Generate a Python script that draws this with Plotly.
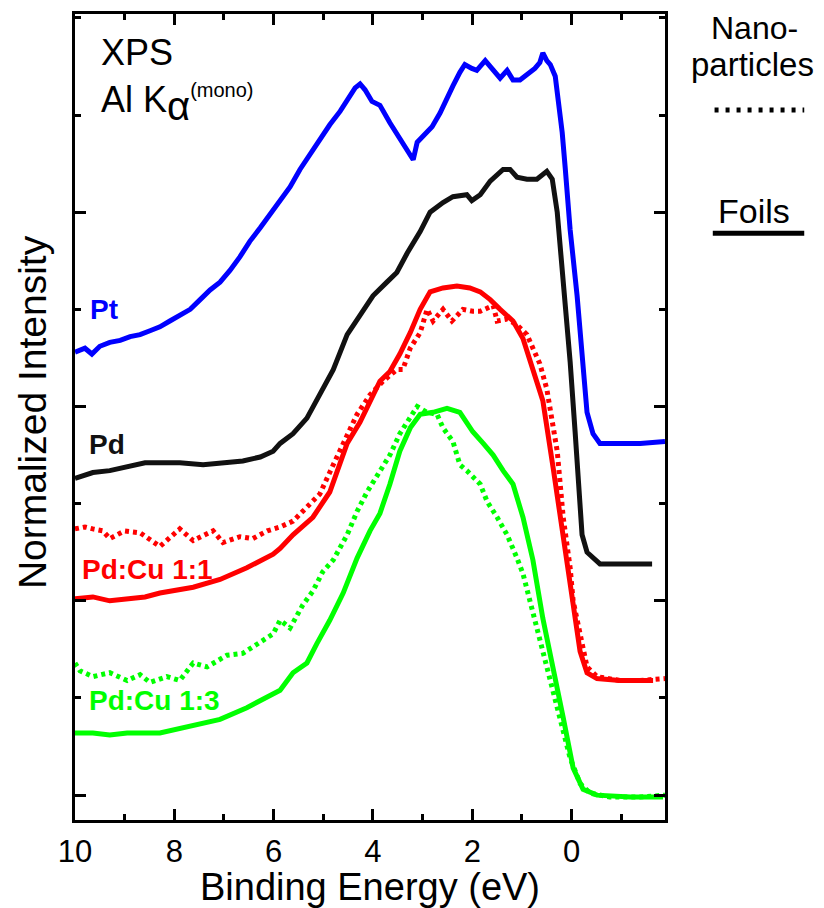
import plotly.graph_objects as go

# ---------------- data (binding energy in eV, normalized intensity with offsets) ----------------
pt_x = [10.00, 9.80, 9.66, 9.50, 9.30, 9.09, 8.89, 8.69, 8.49, 8.29, 8.09, 7.89, 7.68, 7.48, 7.28,
        7.08, 6.88, 6.68, 6.48, 6.27, 6.07, 5.87, 5.67, 5.47, 5.27, 5.07, 4.87, 4.66, 4.50, 4.36,
        4.26, 4.16, 4.02, 3.86, 3.66, 3.46, 3.29, 3.19, 3.11, 2.95, 2.81, 2.65, 2.51, 2.39, 2.25,
        2.15, 2.01, 1.91, 1.74, 1.60, 1.44, 1.30, 1.18, 1.04, 0.88, 0.74, 0.64, 0.58, 0.50, 0.43,
        0.33, 0.27, 0.19, 0.13, 0.03, -0.11, -0.21, -0.31, -0.43, -0.57, -0.97, -1.38, -1.88]
pt_y = [2.28, 2.30, 2.27, 2.31, 2.33, 2.34, 2.36, 2.37, 2.39, 2.41, 2.44, 2.47, 2.50, 2.55, 2.60,
        2.64, 2.70, 2.77, 2.85, 2.92, 2.99, 3.06, 3.13, 3.22, 3.30, 3.37, 3.45, 3.52, 3.59, 3.64,
        3.66, 3.63, 3.57, 3.55, 3.46, 3.38, 3.32, 3.27, 3.36, 3.40, 3.44, 3.51, 3.59, 3.65, 3.72,
        3.76, 3.74, 3.73, 3.78, 3.74, 3.69, 3.73, 3.68, 3.68, 3.71, 3.74, 3.77, 3.82, 3.78, 3.76,
        3.70, 3.59, 3.41, 3.23, 2.91, 2.57, 2.23, 1.97, 1.86, 1.81, 1.81, 1.81, 1.82]

pd_x = [10.00, 9.64, 9.30, 8.95, 8.59, 8.29, 7.89, 7.42, 6.98, 6.62, 6.27, 6.01, 5.87, 5.61, 5.33,
        5.07, 4.80, 4.52, 4.26, 4.00, 3.72, 3.52, 3.31, 3.05, 2.85, 2.59, 2.39, 2.11, 2.01, 1.84,
        1.64, 1.38, 1.24, 1.10, 0.90, 0.70, 0.50, 0.39, 0.29, 0.17, 0.03, -0.07, -0.13, -0.21,
        -0.31, -0.47, -0.57, -1.08, -1.62]
pd_y = [1.63, 1.66, 1.67, 1.69, 1.71, 1.71, 1.71, 1.70, 1.71, 1.72, 1.74, 1.77, 1.81, 1.86, 1.94,
        2.06, 2.19, 2.37, 2.47, 2.57, 2.64, 2.69, 2.79, 2.90, 3.00, 3.05, 3.08, 3.09, 3.06, 3.09,
        3.16, 3.22, 3.22, 3.18, 3.17, 3.17, 3.21, 3.17, 3.00, 2.66, 2.23, 1.87, 1.62, 1.34,
        1.25, 1.21, 1.19, 1.19, 1.19]

pdcu11_foil_x = [10.00, 9.64, 9.30, 8.95, 8.59, 8.29, 7.62, 7.08, 6.54, 6.01, 5.87, 5.61, 5.21, 4.87,
                 4.52, 4.26, 4.06, 3.86, 3.66, 3.46, 3.25, 3.05, 2.85, 2.59, 2.31, 2.05, 1.84, 1.64,
                 1.44, 1.18, 0.98, 0.78, 0.58, 0.37, 0.17, -0.03, -0.17, -0.31, -0.51, -0.97, -1.64]
pdcu11_foil_y = [1.01, 1.02, 1.00, 1.01, 1.02, 1.04, 1.07, 1.11, 1.17, 1.24, 1.27, 1.34, 1.43, 1.56,
                 1.81, 1.92, 2.03, 2.13, 2.18, 2.27, 2.38, 2.50, 2.59, 2.61, 2.62, 2.61, 2.59, 2.55,
                 2.50, 2.44, 2.35, 2.19, 2.03, 1.68, 1.34, 1.00, 0.74, 0.63, 0.60, 0.59, 0.59]

pdcu11_np_x = [10.00, 9.80, 9.64, 9.44, 9.30, 9.00, 8.69, 8.29, 7.89, 7.62, 7.22, 7.02, 6.68, 6.42,
               6.13, 5.87, 5.61, 5.31, 5.07, 4.80, 4.52, 4.32, 4.06, 3.80, 3.52, 3.40, 3.25, 3.05,
               2.91, 2.79, 2.59, 2.41, 2.19, 1.99, 1.84, 1.58, 1.50, 1.30, 1.10, 0.90, 0.78, 0.64,
               0.50, 0.43, 0.29, 0.17, 0.03, -0.03, -0.17, -0.31, -0.51, -0.97, -1.38, -1.88]
pdcu11_np_y = [1.37, 1.38, 1.37, 1.36, 1.32, 1.36, 1.35, 1.28, 1.37, 1.31, 1.36, 1.30, 1.33, 1.32,
               1.36, 1.38, 1.41, 1.49, 1.55, 1.70, 1.86, 1.96, 2.06, 2.13, 2.19, 2.19, 2.30, 2.38,
               2.50, 2.44, 2.50, 2.44, 2.50, 2.49, 2.49, 2.52, 2.44, 2.45, 2.42, 2.37, 2.30, 2.22,
               2.09, 1.99, 1.77, 1.43, 1.17, 1.00, 0.83, 0.66, 0.61, 0.59, 0.59, 0.60]

pdcu13_foil_x = [10.00, 9.64, 9.30, 8.95, 8.29, 7.62, 7.08, 6.54, 6.01, 5.87, 5.61, 5.33, 5.13, 4.87,
                 4.60, 4.32, 4.06, 3.86, 3.66, 3.46, 3.25, 3.05, 2.79, 2.51, 2.25, 2.11, 1.99, 1.78,
                 1.58, 1.38, 1.18, 0.98, 0.78, 0.58, 0.37, 0.17, -0.03, -0.23, -0.51, -1.18, -1.84]
pdcu13_foil_y = [0.32, 0.32, 0.31, 0.32, 0.32, 0.36, 0.39, 0.45, 0.52, 0.54, 0.63, 0.68, 0.78, 0.90,
                 1.04, 1.22, 1.36, 1.45, 1.60, 1.77, 1.89, 1.96, 1.97, 1.99, 1.97, 1.92, 1.87, 1.81,
                 1.75, 1.67, 1.60, 1.43, 1.21, 0.91, 0.66, 0.40, 0.14, 0.03, 0.00, -0.01, -0.01]

pdcu13_np_x = [10.00, 9.90, 9.64, 9.30, 8.95, 8.69, 8.49, 8.15, 7.89, 7.62, 7.34, 6.94, 6.62, 6.27,
               6.01, 5.87, 5.67, 5.41, 5.21, 5.01, 4.80, 4.52, 4.32, 4.12, 3.86, 3.66, 3.46, 3.25,
               3.11, 2.91, 2.71, 2.59, 2.39, 2.25, 2.11, 1.84, 1.70, 1.50, 1.30, 1.10, 0.98, 0.84,
               0.70, 0.58, 0.43, 0.29, 0.17, 0.03, -0.17, -0.37, -0.77, -1.38, -1.88]
pdcu13_np_y = [0.68, 0.64, 0.61, 0.63, 0.59, 0.62, 0.58, 0.61, 0.59, 0.68, 0.66, 0.72, 0.73, 0.79,
               0.83, 0.90, 0.86, 0.98, 1.05, 1.15, 1.21, 1.34, 1.46, 1.56, 1.67, 1.75, 1.86, 1.94,
               2.00, 1.97, 1.96, 1.89, 1.82, 1.70, 1.67, 1.60, 1.51, 1.43, 1.34, 1.22, 1.14, 1.00,
               0.86, 0.73, 0.57, 0.45, 0.32, 0.19, 0.06, 0.01, -0.01, -0.01, 0.00]

x_tick_vals = [10, 8, 6, 4, 2, 0]
x_tick_text = ["10", "8", "6", "4", "2", "0"]
y_tick_vals = [0, 1, 2, 3]

BLUE, BLACK, RED, GREEN = "#0000ff", "#111111", "#ff0000", "#00ff00"
FONT = "Liberation Sans, Arial, sans-serif"

fig = go.Figure()

def solid(x, y, color, name):
    fig.add_trace(go.Scatter(x=x, y=y, mode="lines", name=name,
                             line=dict(color=color, width=5), showlegend=False))

def dotted(x, y, color, name):
    fig.add_trace(go.Scatter(x=x, y=y, mode="lines", name=name,
                             line=dict(color=color, width=5, dash="4px,4px"), showlegend=False))

dotted(pdcu11_np_x, pdcu11_np_y, RED, "Pd:Cu 1:1 nanoparticles")
dotted(pdcu13_np_x, pdcu13_np_y, GREEN, "Pd:Cu 1:3 nanoparticles")
solid(pt_x, pt_y, BLUE, "Pt")
solid(pd_x, pd_y, BLACK, "Pd")
solid(pdcu11_foil_x, pdcu11_foil_y, RED, "Pd:Cu 1:1 foil")
solid(pdcu13_foil_x, pdcu13_foil_y, GREEN, "Pd:Cu 1:3 foil")

axis_common = dict(showline=True, linecolor="black", linewidth=3, mirror="allticks",
                   ticks="inside", tickcolor="black", tickwidth=2.5, showgrid=False, zeroline=False)

fig.update_xaxes(range=[10.0, -1.88], tickvals=x_tick_vals, ticktext=x_tick_text, ticklen=11,
                 ticklabelstandoff=2,
                 tickfont=dict(family=FONT, size=31, color="black"),
                 minor=dict(dtick=1, ticks="inside", ticklen=6, tickcolor="black", tickwidth=2.5),
                 title=dict(text="Binding Energy (eV)", font=dict(family=FONT, size=38, color="black"),
                            standoff=5),
                 **axis_common)
fig.update_yaxes(range=[-0.128, 4.02], tickvals=y_tick_vals, showticklabels=False, ticklen=11,
                 minor=dict(dtick=0.5, ticks="inside", ticklen=6, tickcolor="black", tickwidth=2.5),
                 **axis_common)

ann = []
def label(text, x, y, color, size, bold=False, xanchor="left", angle=0):
    t = f"<b>{text}</b>" if bold else text
    ann.append(dict(text=t, x=x, y=y, xref="paper", yref="paper", xanchor=xanchor, yanchor="middle",
                    showarrow=False, textangle=angle, font=dict(family=FONT, size=size, color=color)))

# y-axis title, placed as a rotated text left of the axis
label("Normalized Intensity", -0.073, 0.506, "black", 39, xanchor="center", angle=-90)

label("Pt", 0.022, 0.633, BLUE, 28, True)
label("Pd", 0.020, 0.466, BLACK, 28, True)
label("Pd:Cu 1:1", 0.008, 0.311, RED, 28, True)
label("Pd:Cu 1:3", 0.020, 0.148, GREEN, 28, True)
label("XPS", 0.040, 0.952, "black", 36)
label("Al K<sub><span style='font-size:40px'>α</span></sub><sup><span style='font-size:20px'>(mono)</span></sup>",
      0.040, 0.889, "black", 36)
label("Nano-", 1.151, 0.983, "black", 32, xanchor="center")
label("particles", 1.148, 0.937, "black", 33, xanchor="center")
label("Foils", 1.150, 0.756, "black", 34, xanchor="center")
fig.update_layout(annotations=ann)

fig.add_shape(type="line", xref="paper", yref="paper", x0=1.084, x1=1.236, y0=0.881, y1=0.881,
              line=dict(color="black", width=5, dash="4px,7px"))
fig.add_shape(type="line", xref="paper", yref="paper", x0=1.081, x1=1.236, y0=0.728, y1=0.728,
              line=dict(color="black", width=5))

# the page body adds an 8px offset, so the figure is 8px smaller and margins compensate
fig.update_layout(width=816, height=900, margin=dict(l=67, r=159, t=3, b=88),
                  plot_bgcolor="white", paper_bgcolor="white",
                  font=dict(family=FONT, color="black"))

fig.write_html("out.html")
